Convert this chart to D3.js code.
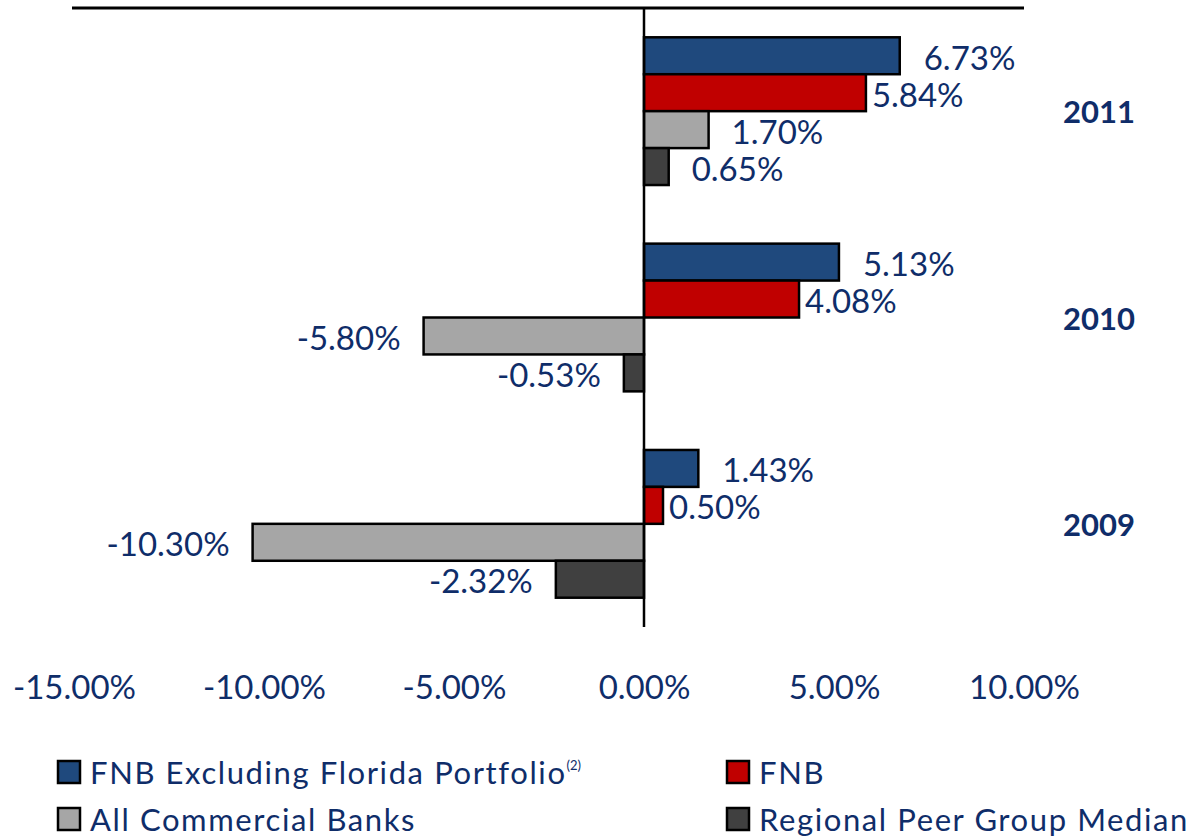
<!DOCTYPE html>
<head>
    <meta charset="utf-8">
    <script src="https://cdn.jsdelivr.net/npm/d3@7"></script>
    <style>
        body { margin: 0; background: #fff; }
        text { font-family: Lato, "Open Sans", sans-serif; fill: #0f2d69; }
    </style>
</head>
<body>
    <div id="chart"></div>
    <script>

        const width = 1192, height = 838;

        // data
        const years = ["2011", "2010", "2009"];
        const seriesNames = ["FNB Excluding Florida Portfolio", "FNB", "All Commercial Banks", "Regional Peer Group Median"];
        const fnbExFlorida = [6.73, 5.13, 1.43];
        const fnb = [5.84, 4.08, 0.50];
        const allBanks = [1.70, -5.80, -10.30];
        const peerMedian = [0.65, -0.53, -2.32];
        const xTicks = [-15, -10, -5, 0, 5, 10];

        const seriesValues = [fnbExFlorida, fnb, allBanks, peerMedian];
        const colors = ["#1f497d", "#c00000", "#a6a6a6", "#404040"];
        // label distance from bar end, red ones sit closer in the original
        const labelGap = [24, 6, 23, 23];

        const plotTop = 8, plotBottom = 627;

        const svg = d3.select("#chart").append("svg")
            .attr("width", width)
            .attr("height", height);

        const x = d3.scaleLinear()
            .domain([-15, 10])
            .range([74, 1024]);

        const y = d3.scaleBand()
            .domain(years)
            .range([plotTop, plotBottom])
            .paddingInner(0.284)
            .paddingOuter(0.142);

        const ySub = d3.scaleBand()
            .domain(d3.range(seriesNames.length))
            .range([0, y.bandwidth()]);

        // flatten to one record per bar
        const bars = [];
        years.forEach((yr, i) => {
            seriesValues.forEach((vals, s) => {
                bars.push({ year: yr, s: s, v: vals[i] });
            });
        });

        const fmt = v => v.toFixed(2) + "%";

        // bars
        svg.append("g")
            .selectAll("rect")
            .data(bars)
            .join("rect")
            .attr("x", d => x(Math.min(0, d.v)))
            .attr("y", d => y(d.year) + ySub(d.s))
            .attr("width", d => Math.abs(x(d.v) - x(0)))
            .attr("height", ySub.bandwidth())
            .attr("fill", d => colors[d.s])
            .attr("stroke", "#000")
            .attr("stroke-width", 2.5);

        // value labels
        svg.append("g")
            .selectAll("text")
            .data(bars)
            .join("text")
            .attr("x", d => d.v >= 0 ? x(d.v) + labelGap[d.s] : x(d.v) - labelGap[d.s])
            .attr("y", d => y(d.year) + ySub(d.s) + ySub.bandwidth() / 2 + 14)
            .attr("text-anchor", d => d.v >= 0 ? "start" : "end")
            .style("font-size", "33px")
            .text(d => fmt(d.v));

        // top axis line and zero line
        svg.append("line")
            .attr("x1", x(-15) - 2).attr("x2", x(10))
            .attr("y1", plotTop).attr("y2", plotTop)
            .attr("stroke", "#000").attr("stroke-width", 3);

        svg.append("line")
            .attr("x1", x(0)).attr("x2", x(0))
            .attr("y1", plotTop).attr("y2", plotBottom)
            .attr("stroke", "#000").attr("stroke-width", 2.5);

        // x tick labels
        const xAxis = svg.append("g")
            .attr("transform", `translate(0, ${plotBottom})`)
            .call(d3.axisBottom(x).tickValues(xTicks).tickFormat(d => d.toFixed(2) + "%").tickSize(0).tickPadding(0));
        xAxis.select(".domain").remove();
        xAxis.selectAll("text")
            .attr("y", 72)
            .attr("dy", null)
            .style("font-size", "33px")
            .attr("fill", null);

        // year labels on the right
        svg.append("g")
            .selectAll("text")
            .data(years)
            .join("text")
            .attr("x", 1135)
            .attr("y", d => y(d) + y.bandwidth() / 2 + 12)
            .attr("text-anchor", "end")
            .style("font-size", "31px")
            .style("font-weight", "bold")
            .text(d => d);

        // legend, two columns
        const legendPos = [[58, 761], [727, 761], [58, 808], [727, 808]];
        const legend = svg.append("g")
            .selectAll("g")
            .data(seriesNames)
            .join("g")
            .attr("transform", (d, i) => `translate(${legendPos[i][0]}, ${legendPos[i][1]})`);

        legend.append("rect")
            .attr("width", 22).attr("height", 22)
            .attr("fill", (d, i) => colors[i])
            .attr("stroke", "#000").attr("stroke-width", 2.5);

        const lt = legend.append("text")
            .attr("x", 32)
            .attr("y", 23)
            .style("font-size", "31px")
            .style("letter-spacing", "1.6px")
            .text(d => d);

        // footnote marker on the first entry
        lt.filter((d, i) => i === 0)
            .append("tspan")
            .attr("dy", -14)
            .style("font-size", "13px")
            .style("letter-spacing", "0px")
            .text("(2)");

    </script>
</body>
